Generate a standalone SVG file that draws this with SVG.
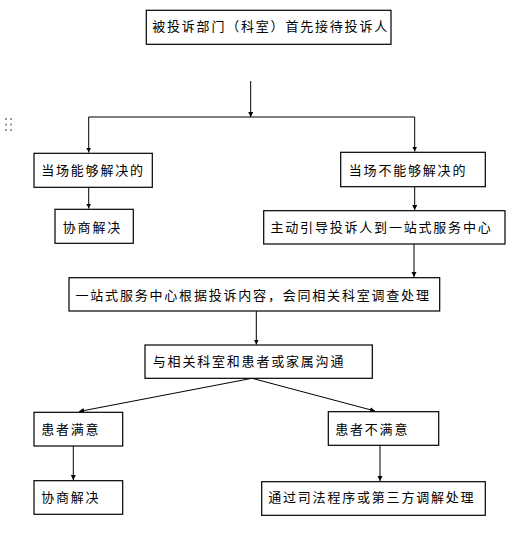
<svg xmlns="http://www.w3.org/2000/svg" width="526" height="538" viewBox="0 0 526 538">
<style>
.box{fill:#fff;stroke:#000;stroke-width:1.2}
.t{font-family:"Noto Sans CJK SC","Noto Sans CJK JP",sans-serif;font-size:13px;letter-spacing:1.8px;fill:#000}
.c{fill:none;stroke:#000;stroke-width:1}
.dot{fill:#999}
</style>
<defs>
<marker id="ah" markerUnits="userSpaceOnUse" markerWidth="6" markerHeight="6" refX="5" refY="2.5" orient="auto">
<path d="M0,0 L5,2.5 L0,5 z" fill="#000"/>
</marker>
</defs>
<rect width="526" height="538" fill="#fff"/>
<g id="handle">
<rect class="dot" x="5" y="118" width="2" height="2"/><rect class="dot" x="10" y="118" width="2" height="2"/>
<rect class="dot" x="5" y="123.5" width="2" height="2"/><rect class="dot" x="10" y="123.5" width="2" height="2"/>
<rect class="dot" x="5" y="129" width="2" height="2"/><rect class="dot" x="10" y="129" width="2" height="2"/>
</g>
<g id="connectors">
<path class="c" d="M250.7,81 V117" marker-end="url(#ah)"/>
<path class="c" d="M88.7,117 H414.7"/>
<path class="c" d="M88.7,117 V152.5" marker-end="url(#ah)"/>
<path class="c" d="M414.7,117 V151.5" marker-end="url(#ah)"/>
<path class="c" d="M88.7,187.5 V208.5" marker-end="url(#ah)"/>
<path class="c" d="M414.7,187 V210" marker-end="url(#ah)"/>
<path class="c" d="M414,244 V277" marker-end="url(#ah)"/>
<path class="c" d="M256.3,311 V344.5" marker-end="url(#ah)"/>
<path class="c" d="M252,378.3 L79,411.5" marker-end="url(#ah)"/>
<path class="c" d="M252,378.3 L375,411" marker-end="url(#ah)"/>
<path class="c" d="M73.3,446 V480" marker-end="url(#ah)"/>
<path class="c" d="M380,445.3 V481" marker-end="url(#ah)"/>
</g>
<g id="n1"><rect class="box" x="146.3" y="10.3" width="244.7" height="34"/><text class="t" x="152.2" y="31">被投诉部门（科室）首先接待投诉人</text></g>
<g id="n2"><rect class="box" x="34" y="153.3" width="118.3" height="34"/><text class="t" x="41.2" y="175">当场能够解决的</text></g>
<g id="n3"><rect class="box" x="340.7" y="152.3" width="144.6" height="34.4"/><text class="t" x="348.8" y="175">当场不能够解决的</text></g>
<g id="n4"><rect class="box" x="55" y="209.3" width="78.3" height="34"/><text class="t" x="62.8" y="232">协商解决</text></g>
<g id="n5"><rect class="box" x="263.7" y="210.7" width="241.3" height="33.3"/><text class="t" x="270.5" y="232">主动引导投诉人到一站式服务中心</text></g>
<g id="n6"><rect class="box" x="69" y="277.7" width="370.7" height="33.3"/><text class="t" x="75.5" y="299.5">一站式服务中心根据投诉内容，会同相关科室调查处理</text></g>
<g id="n7"><rect class="box" x="145" y="345" width="227.3" height="33.3"/><text class="t" x="152.8" y="366">与相关科室和患者或家属沟通</text></g>
<g id="n8"><rect class="box" x="34" y="412.3" width="88.7" height="33.7"/><text class="t" x="41.2" y="433.5">患者满意</text></g>
<g id="n9"><rect class="box" x="328.3" y="411.7" width="110.4" height="33.6"/><text class="t" x="335.2" y="433.5">患者不满意</text></g>
<g id="n10"><rect class="box" x="34" y="480.7" width="88.7" height="33.6"/><text class="t" x="41.2" y="502">协商解决</text></g>
<g id="n11"><rect class="box" x="261.7" y="481.7" width="223.6" height="33.6"/><text class="t" x="268.2" y="502">通过司法程序或第三方调解处理</text></g>
</svg>
